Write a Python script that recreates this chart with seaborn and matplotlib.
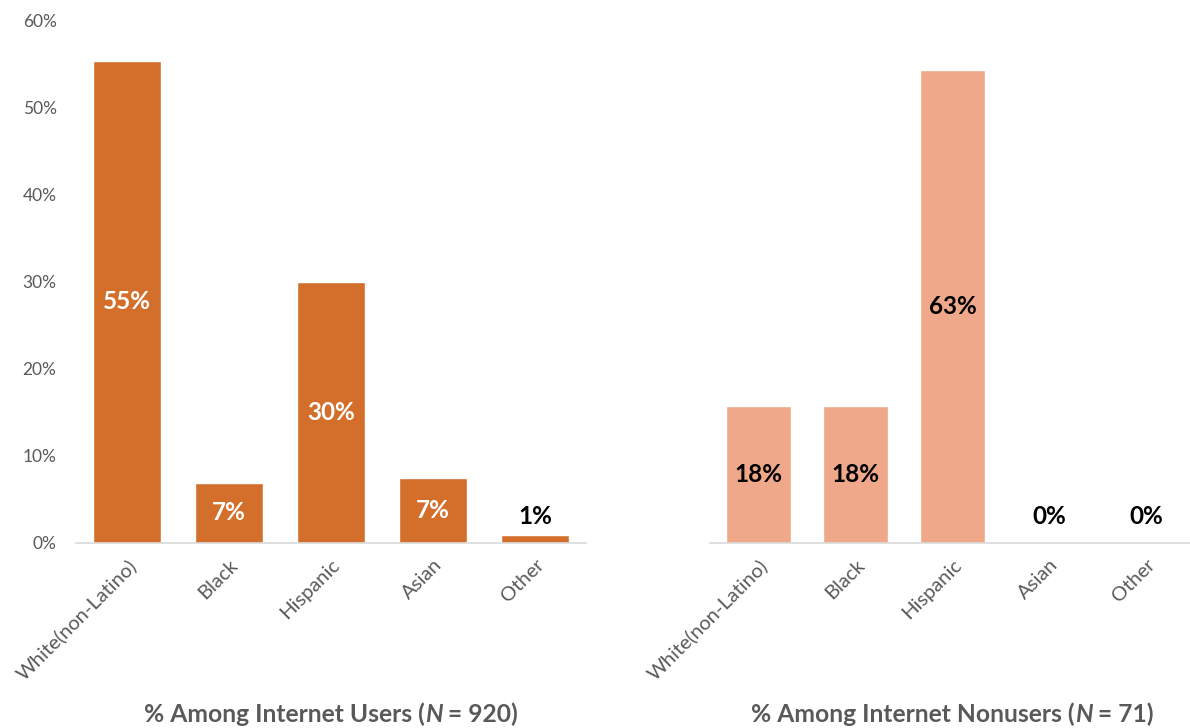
import matplotlib
matplotlib.use("Agg")
import matplotlib.pyplot as plt
import seaborn as sns
import pandas as pd
from matplotlib.offsetbox import TextArea, HPacker, AnnotationBbox

# Race / ethnicity breakdown, percent of each group
categories = ["White(non-Latino)", "Black", "Hispanic", "Asian", "Other"]
users_pct = [55.3, 6.8, 29.9, 7.4, 0.9]
nonusers_pct = [18.3, 18.3, 63.4, 0.0, 0.0]
users_title = ("% Among Internet Users (", "N", " = 920)")
nonusers_title = ("% Among Internet Nonusers (", "N", " = 71)")
y_ticks = [0, 10, 20, 30, 40, 50, 60]

sns.set_theme(style="white")
plt.rcParams["font.family"] = ["Lato", "DejaVu Sans"]

GRAY = "#595959"
AXIS = "#D9D9D9"
ORANGE = "#D36F2B"
SALMON = "#F0A88A"

fig = plt.figure(figsize=(11.9, 7.28), dpi=100)
W, H = 1190, 728
ax_l = fig.add_axes([76 / W, (H - 542.5) / H, 510 / W, 522 / H])
ax_r = fig.add_axes([710 / W, (H - 542.5) / H, 485 / W, 522 / H])

users_df = pd.DataFrame({"group": categories, "pct": users_pct})
nonusers_df = pd.DataFrame({"group": categories, "pct": nonusers_pct})

sns.barplot(data=users_df, x="group", y="pct", color=ORANGE, saturation=1,
            width=0.667, ax=ax_l)
sns.barplot(data=nonusers_df, x="group", y="pct", color=SALMON, saturation=1,
            width=0.667, ax=ax_r)

ax_l.set_ylim(0, 60)
ax_r.set_ylim(0, 70)

for ax in (ax_l, ax_r):
    ax.set_xlabel("")
    ax.set_ylabel("")
    for side in ("top", "right", "left"):
        ax.spines[side].set_visible(False)
    ax.spines["bottom"].set_color(AXIS)
    ax.spines["bottom"].set_linewidth(1.2)
    ax.tick_params(axis="x", length=0, pad=10)
    ax.set_xticks(range(len(categories)))
    ax.set_xticklabels(categories, rotation=45, ha="right",
                       rotation_mode="anchor", color=GRAY, fontsize=14.5)
    ax.set_xlim(-0.5, len(categories) - 0.5)

ax_l.set_yticks(y_ticks)
ax_l.set_yticklabels([f"{t}%" for t in y_ticks], color=GRAY, fontsize=12.5)
ax_l.tick_params(axis="y", length=0, pad=14)
ax_r.set_yticks([])


def label_bars(ax, values, colors):
    for i, (v, c) in enumerate(zip(values, colors)):
        text = f"{v:.0f}%"
        if v < 3:
            ax.annotate(text, (i, 0), xytext=(0, 19), textcoords="offset points",
                        ha="center", va="center", fontsize=17.5,
                        fontweight="bold", color=c)
        else:
            ax.text(i, v / 2, text, ha="center", va="center", fontsize=17.5,
                    fontweight="bold", color=c)


label_bars(ax_l, users_pct, ["white", "white", "white", "white", "black"])
label_bars(ax_r, nonusers_pct, ["black"] * 5)


def panel_title(ax, parts):
    bold = dict(color=GRAY, fontsize=17.7, fontweight="bold")
    ital = dict(color=GRAY, fontsize=17.7, fontweight="bold", fontstyle="italic")
    box = HPacker(children=[TextArea(parts[0], textprops=bold),
                            TextArea(parts[1], textprops=ital),
                            TextArea(parts[2], textprops=bold)],
                  pad=0, sep=0, align="baseline")
    ab = AnnotationBbox(box, (0.5, 0), xycoords=ax.transAxes,
                        xybox=(0.5, -172), boxcoords=("axes fraction", "offset pixels"),
                        frameon=False, box_alignment=(0.5, 0.5), annotation_clip=False)
    ax.add_artist(ab)


panel_title(ax_l, users_title)
panel_title(ax_r, nonusers_title)

fig.savefig("out.png", dpi=100, facecolor="white")
